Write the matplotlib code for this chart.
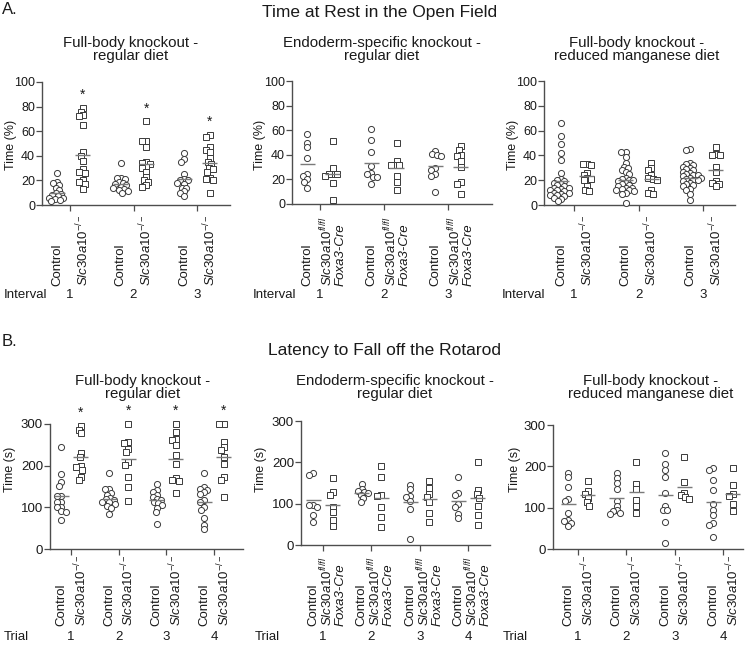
import numpy as np
import matplotlib
matplotlib.use("Agg")
import matplotlib.pyplot as plt

plt.rcParams['font.family'] = ['Liberation Sans', 'DejaVu Sans']
plt.rcParams['mathtext.fontset'] = 'custom'
plt.rcParams['mathtext.rm'] = 'Liberation Sans'
plt.rcParams['mathtext.it'] = 'Liberation Sans:italic'
plt.rcParams['mathtext.bf'] = 'Liberation Sans:bold'

# ---------------- data ----------------
intervals = ['1', '2', '3']
trials = ['1', '2', '3', '4']

# Time at rest (%), full-body knockout, regular diet
rest_fb_ctrl = [
    [26, 19, 18, 16, 14, 12, 10, 9, 8, 7, 6, 6, 5, 4, 3],
    [34, 22, 22, 21, 19, 18, 17, 16, 15, 14, 13, 12, 11, 10],
    [42, 37, 35, 25, 21, 20, 20, 18, 17, 14, 14, 11, 10, 7],
]
rest_fb_ko = [
    [79, 76, 73, 72, 65, 43, 40, 36, 29, 27, 26, 20, 19, 17, 13],
    [68, 52, 52, 47, 35, 34, 33, 31, 30, 27, 23, 20, 19, 16, 15],
    [57, 55, 47, 45, 43, 38, 35, 33, 30, 29, 27, 22, 21, 20, 10],
]
rest_fb_ctrl_mean = [10, 17, 21]
rest_fb_ko_mean = [40.5, 33, 34.5]
rest_fb_sig = [True, True, True]

# Time at rest (%), endoderm-specific knockout, regular diet
rest_endo_ctrl = [
    [57, 50, 46, 37, 24, 23, 20, 18, 13],
    [61, 52, 42, 31, 25, 24, 22, 22, 16],
    [43, 41, 40, 39, 29, 28, 24, 23, 10],
]
rest_endo_ko = [
    [51, 29, 24, 24, 24, 23, 17, 3],
    [50, 35, 32, 32, 32, 23, 18, 11],
    [47, 44, 40, 39, 35, 30, 18, 16, 8],
]
rest_endo_ctrl_mean = [32.5, 33, 31]
rest_endo_ko_mean = [24.5, 29.5, 30]
rest_endo_sig = [False, False, False]

# Time at rest (%), full-body knockout, reduced manganese diet
rest_mn_ctrl = [
    [66, 56, 49, 42, 36, 26, 21, 20, 19, 18, 17, 16, 15, 14, 14, 13, 12, 12,
     11, 10, 10, 9, 8, 8, 7, 6, 5, 3],
    [43, 43, 39, 34, 31, 30, 28, 27, 25, 22, 21, 20, 20, 19, 18, 17, 16, 15,
     14, 14, 13, 12, 12, 11, 10, 9, 2],
    [45, 44, 34, 33, 32, 31, 30, 29, 28, 27, 26, 25, 24, 24, 23, 22, 22, 21,
     20, 20, 19, 18, 17, 16, 15, 13, 12, 9, 4],
]
rest_mn_ko = [
    [33, 33, 32, 26, 24, 22, 21, 20, 15, 12, 11],
    [34, 30, 28, 24, 22, 21, 20, 12, 10, 9],
    [47, 41, 40, 40, 31, 27, 19, 18, 17, 15],
]
rest_mn_ctrl_mean = [19, 20, 21.5]
rest_mn_ko_mean = [23.5, 21, 28.5]
rest_mn_sig = [False, False, False]

# Latency to fall (s), full-body knockout, regular diet
rot_fb_ctrl = [
    [244, 180, 160, 152, 128, 127, 114, 112, 102, 100, 91, 90, 70],
    [182, 144, 143, 135, 130, 122, 119, 117, 114, 112, 108, 103, 98, 83],
    [156, 142, 136, 130, 125, 120, 117, 114, 110, 106, 98, 88, 61],
    [183, 148, 145, 141, 137, 132, 117, 114, 100, 94, 74, 58, 47],
]
rot_fb_ko = [
    [295, 286, 278, 230, 220, 199, 197, 190, 174, 165],
    [300, 257, 255, 240, 232, 208, 202, 174, 150, 116],
    [300, 281, 265, 262, 250, 226, 203, 170, 165, 163, 134],
    [300, 300, 256, 245, 238, 220, 203, 172, 165, 126],
]
rot_fb_ctrl_mean = [128, 120, 117, 114]
rot_fb_ko_mean = [222, 215, 216, 220]
rot_fb_sig = [True, True, True, True]

# Latency to fall (s), endoderm-specific knockout, regular diet
rot_endo_ctrl = [
    [174, 170, 97, 96, 91, 72, 56],
    [147, 136, 131, 128, 126, 122, 113, 104],
    [146, 135, 119, 115, 107, 88, 14],
    [164, 127, 120, 99, 93, 75, 65],
]
rot_endo_ko = [
    [161, 128, 120, 91, 79, 61, 45],
    [192, 164, 120, 119, 91, 67, 43],
    [156, 138, 124, 116, 105, 77, 55],
    [200, 133, 123, 114, 94, 72, 48],
]
rot_endo_ctrl_mean = [109, 127, 104, 107]
rot_endo_ko_mean = [97, 114, 111, 113]
rot_endo_sig = [False, False, False, False]

# Latency to fall (s), full-body knockout, reduced manganese diet
rot_mn_ctrl = [
    [185, 174, 149, 120, 115, 88, 70, 67, 62, 55],
    [183, 171, 159, 145, 116, 105, 94, 92, 88, 85],
    [232, 205, 190, 175, 135, 104, 95, 94, 66, 15],
    [196, 192, 167, 142, 108, 95, 82, 62, 59, 29],
]
rot_mn_ko = [
    [165, 140, 132, 124, 114, 105],
    [211, 157, 146, 118, 103, 86],
    [222, 162, 136, 130, 126, 122],
    [196, 155, 132, 128, 110, 93],
]
rot_mn_ctrl_mean = [108, 124, 131, 113]
rot_mn_ko_mean = [130, 138, 150, 134]
rot_mn_sig = [False, False, False, False]

ctrl_label = "Control"
ko_label_fb = r"$\mathit{Slc30a10}^{-/-}$"
ko_label_endo = r"$\mathit{Slc30a10}^{fl/fl}$" + "\nFoxa3-Cre"

# ---------------- figure ----------------
W, H = 745, 646
fig = plt.figure(figsize=(W / 100, H / 100), dpi=100)

EDGE = '#3a3a3a'
SPINE = '#4d4d4d'
MEANC = '#7a7a7a'
TXT = '#1a1a1a'


def ftext(x, y, s, **kw):
    kw.setdefault('color', TXT)
    return fig.text(x / W, 1 - y / H, s, **kw)


def swarm_offsets(ypx, d):
    ypx = np.asarray(ypx, float)
    order = np.argsort(ypx)
    placed = []
    offs = np.zeros(len(ypx))
    for i in order:
        y = ypx[i]
        near = [(px, py) for px, py in placed if abs(py - y) < d]
        cands = [0.0]
        for px, py in near:
            dx = np.sqrt(d * d - (py - y) ** 2)
            cands += [px + dx, px - dx]
        cands = sorted(cands, key=lambda c: (abs(c), c))
        for c in cands:
            if all((c - px) ** 2 + (y - py) ** 2 >= d * d - 1e-6 for px, py in near):
                offs[i] = c
                placed.append((c, y))
                break
    return offs


def panel(box, ctrl, ko, ctrl_mean, ko_mean, sig, ko_label, ylabel, ymax,
          yticks, tick_fs, lab_bottom, ylab_xy, group_word, word_x, group_names,
          word_y, sub_xy, sub_lines):
    left, right, top, bottom, c1, cn = box
    ax = fig.add_axes([left / W, 1 - bottom / H, (right - left) / W, (bottom - top) / H])
    n = len(ctrl)
    sx = (cn - c1) / (n - 1)          # px per group unit
    sy = (bottom - top) / ymax        # px per data unit
    ax.set_xlim(1 - (c1 - left) / sx, n + (right - cn) / sx)
    ax.set_ylim(0, ymax)
    for s in ['top', 'right']:
        ax.spines[s].set_visible(False)
    for s in ['left', 'bottom']:
        ax.spines[s].set_color(SPINE)
        ax.spines[s].set_linewidth(1.0)
    ax.set_yticks(yticks)
    ax.set_yticklabels([str(t) for t in yticks], fontsize=tick_fs, color=TXT)
    ax.set_xticks(np.arange(1, n + 1))
    ax.set_xticklabels([])
    ax.tick_params(axis='both', direction='out', length=4, width=0.9, color=SPINE, pad=1.0)
    ax.patch.set_alpha(0)

    dx = 0.2
    hw = 7.5 / sx
    for g in range(n):
        for vals, mv, marker, xc in ((ctrl[g], ctrl_mean[g], 'o', g + 1 - dx),
                                    (ko[g], ko_mean[g], 's', g + 1 + dx)):
            vals = np.asarray(vals, float)
            offs = swarm_offsets(-vals * sy, 4.2) / sx
            ax.plot(xc + offs, vals, linestyle='none', marker=marker, ms=4.4,
                    mfc='white', mec=EDGE, mew=0.7, clip_on=False, zorder=3)
            ax.plot([xc - hw, xc + hw], [mv, mv], color=MEANC, lw=1.0, zorder=4,
                    solid_capstyle='butt')
        if sig[g]:
            top_val = max(ko[g])
            ax.text(g + 1 + dx, top_val + 13.0 / sy, '*', ha='center', va='center',
                    fontsize=10, color=TXT, clip_on=False)
        # category labels
        for xc, lab, kw in ((g + 1 - dx, ctrl_label, {}),
                            (g + 1 + dx, ko_label, {'style': 'italic'})):
            ax.annotate(lab, xy=(xc, H - lab_bottom), xycoords=('data', 'figure pixels'),
                        rotation=90, ha='center', va='bottom', multialignment='left',
                        fontsize=9.5, color=TXT, linespacing=0.95, annotation_clip=False, **kw)
        ax.annotate(group_names[g], xy=(g + 1, H - word_y), xycoords=('data', 'figure pixels'),
                    ha='center', va='center', fontsize=9.5, color=TXT, annotation_clip=False)
    ftext(word_x, word_y, group_word, ha='left', va='center', fontsize=9.5)
    ftext(ylab_xy[0], ylab_xy[1], ylabel, rotation=90, ha='center', va='center', fontsize=9)
    ftext(sub_xy[0], sub_xy[1], sub_lines[0], ha='center', va='center', fontsize=10.8)
    ftext(sub_xy[0], sub_xy[1] + 13, sub_lines[1], ha='center', va='center', fontsize=10.8)
    return ax


A_ticks = [0, 20, 40, 60, 80, 100]
B_ticks = [0, 100, 200, 300]

# Panel A
panel((42, 230, 82, 205, 70, 197), rest_fb_ctrl, rest_fb_ko, rest_fb_ctrl_mean, rest_fb_ko_mean,
      rest_fb_sig, ko_label_fb, 'Time (%)', 100, A_ticks, 9, 286, (11, 145), 'Interval', 4,
      intervals, 295, (131, 43), ('Full-body knockout -', 'regular diet'))
panel((292, 492, 81, 204, 320, 448), rest_endo_ctrl, rest_endo_ko, rest_endo_ctrl_mean,
      rest_endo_ko_mean, rest_endo_sig, ko_label_endo, 'Time (%)', 100, A_ticks, 9, 286,
      (260, 145), 'Interval', 253, intervals, 295, (382, 43),
      ('Endoderm-specific knockout -', 'regular diet'))
panel((544, 735, 81, 205, 574, 703), rest_mn_ctrl, rest_mn_ko, rest_mn_ctrl_mean,
      rest_mn_ko_mean, rest_mn_sig, ko_label_fb, 'Time (%)', 100, A_ticks, 9, 286,
      (513, 145), 'Interval', 502, intervals, 295, (637, 43),
      ('Full-body knockout -', 'reduced manganese diet'))

# Panel B
panel((50, 243, 424, 549, 71, 214), rot_fb_ctrl, rot_fb_ko, rot_fb_ctrl_mean, rot_fb_ko_mean,
      rot_fb_sig, ko_label_fb, 'Time (s)', 300, B_ticks, 9.5, 626, (10, 469), 'Trial', 4,
      trials, 637, (143, 381), ('Full-body knockout -', 'regular diet'))
panel((301, 490, 421, 545, 323, 468), rot_endo_ctrl, rot_endo_ko, rot_endo_ctrl_mean,
      rot_endo_ko_mean, rot_endo_sig, ko_label_endo, 'Time (s)', 300, B_ticks, 9.5, 626,
      (261, 469), 'Trial', 255, trials, 637, (395, 381),
      ('Endoderm-specific knockout -', 'regular diet'))
panel((553, 743, 425, 549, 578, 723), rot_mn_ctrl, rot_mn_ko, rot_mn_ctrl_mean,
      rot_mn_ko_mean, rot_mn_sig, ko_label_fb, 'Time (s)', 300, B_ticks, 9.5, 626,
      (515, 469), 'Trial', 503, trials, 637, (651, 381),
      ('Full-body knockout -', 'reduced manganese diet'))

ftext(2, 10, 'A.', ha='left', va='center', fontsize=12)
ftext(380, 12, 'Time at Rest in the Open Field', ha='center', va='center', fontsize=12.5)
ftext(2, 342, 'B.', ha='left', va='center', fontsize=12)
ftext(384, 350, 'Latency to Fall off the Rotarod', ha='center', va='center', fontsize=12.5)

fig.savefig('out.png', dpi=100)
